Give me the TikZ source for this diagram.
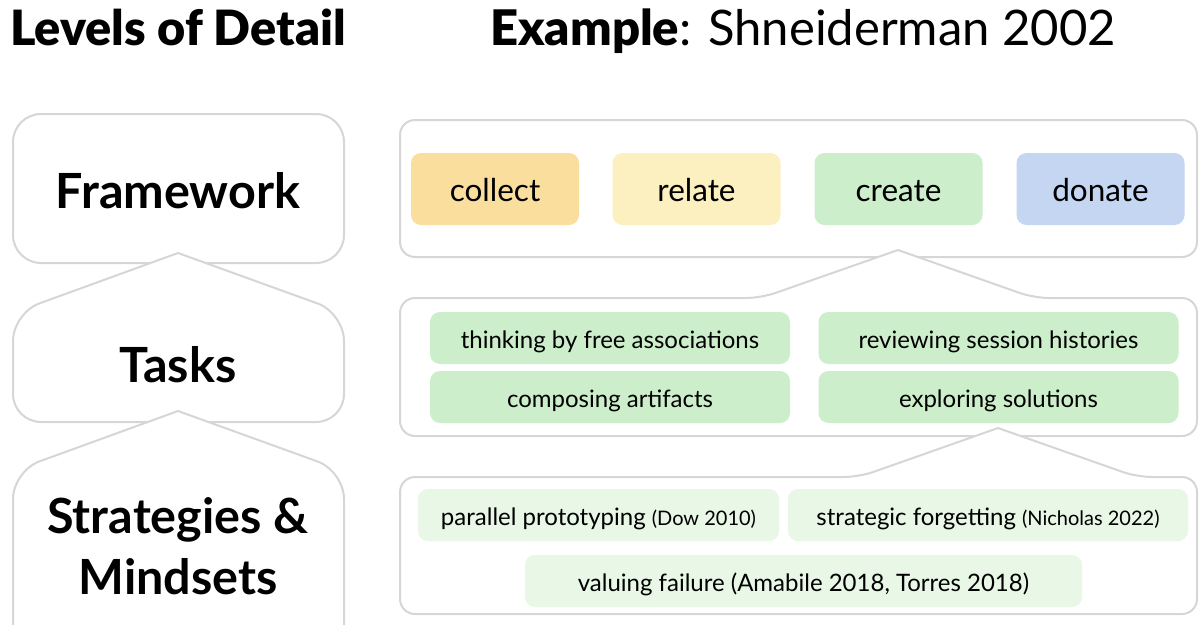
\documentclass[tikz,border=0pt]{standalone}
\usepackage{fontspec}
\setmainfont{Lato}
\newfontfamily\blackfont{Lato Black}
\definecolor{framegray}{HTML}{D6D6D6}
\definecolor{collectc}{HTML}{F9DE9E}
\definecolor{relatec}{HTML}{FCF0C0}
\definecolor{createc}{HTML}{CDEECB}
\definecolor{donatec}{HTML}{C4D6F2}
\definecolor{stratc}{HTML}{E8F7E6}
\tikzset{
  lframe/.style={draw=framegray, line width=2pt, fill=white, rounded corners=28pt, line cap=round, line join=round},
  rframe/.style={draw=framegray, line width=2pt, fill=white, rounded corners=15pt, line cap=round, line join=round},
  chip/.style={rounded corners=10pt, inner sep=0pt, minimum width=168pt, minimum height=72pt,
    text height=25.4pt, text depth=0pt, font=\fontsize{31.5}{34}\selectfont},
  taskbox/.style={rounded corners=10pt, inner sep=0pt, fill=createc, minimum width=360pt, minimum height=52pt,
    text height=20pt, text depth=0pt, font=\fontsize{24}{27}\selectfont},
  stratbox/.style={rounded corners=10pt, inner sep=0pt, fill=stratc, minimum height=52pt,
    text height=20pt, text depth=0pt, font=\fontsize{24}{27}\selectfont},
  level/.style={inner sep=0pt, font=\bfseries\fontsize{48.5}{61}\selectfont, align=center},
  header/.style={inner sep=0pt, anchor=base west, font=\fontsize{49}{52}\selectfont},
}
\newcommand{\refsize}{\fontsize{20}{23}\selectfont}
\begin{document}
\begin{tikzpicture}[x=1pt,y=-1pt]
\useasboundingbox (0,0) rectangle (1199,624);
\clip (0,0) rectangle (1199,624);

% headers
\node[header, font=\blackfont\fontsize{48.6}{52}\selectfont] (hlevels) at (10,45) {Levels of Detail};
\node[header] (hexample) at (490,45) {{\blackfont Example}: Shneiderman 2002};

% left column
\draw[lframe] (13,114) rectangle (344,263);
\draw[lframe] (178,253) -- (344,313) -- (344,422) -- (13,422) -- (13,313) -- (178,253);
\draw[lframe] (178,411) -- (344,471) -- (344,680) -- (13,680) -- (13,471) -- (178,411);
\node[level, anchor=base] (lframework) at (178,208) {Framework};
\node[level, anchor=base] (ltasks) at (178,382) {Tasks};
\node[level, anchor=center] (lstrat) at (178,546) {Strategies \&\\Mindsets};

% right column: framework
\draw[rframe] (400,120) rectangle (1197,257);
\node[chip, fill=collectc] (collect) at (495,189) {collect};
\node[chip, fill=relatec] (relate) at (696.5,189) {relate};
\node[chip, fill=createc] (create) at (898.5,189) {create};
\node[chip, fill=donatec] (donate) at (1100.5,189) {donate};

% tasks
\coordinate (tpeak) at (898,250);
\draw[rframe] (tpeak) -- (1034,298) -- (1197,298) -- (1197,436) -- (400,436) -- (400,298) -- (761,298) -- (tpeak);
\node[taskbox] (thinking) at (610,338) {thinking by free associations};
\node[taskbox] (reviewing) at (998.5,338) {reviewing session histories};
\node[taskbox] (composing) at (610,397) {composing artifacts};
\node[taskbox] (exploring) at (998.5,397) {exploring solutions};

% strategies
\coordinate (speak) at (998,428);
\draw[rframe] (speak) -- (1137,477) -- (1197,477) -- (1197,614) -- (400,614) -- (400,477) -- (859,477) -- (speak);
\node[stratbox, minimum width=361pt] (parallel) at (598.5,515) {parallel prototyping {\refsize(Dow 2010)}};
\node[stratbox, minimum width=400pt] (forgetting) at (988,515) {strategic forgetting {\refsize(Nicholas 2022)}};
\node[stratbox, minimum width=557pt] (valuing) at (803.5,581) {valuing failure (Amabile 2018, Torres 2018)};
\end{tikzpicture}
\end{document}
